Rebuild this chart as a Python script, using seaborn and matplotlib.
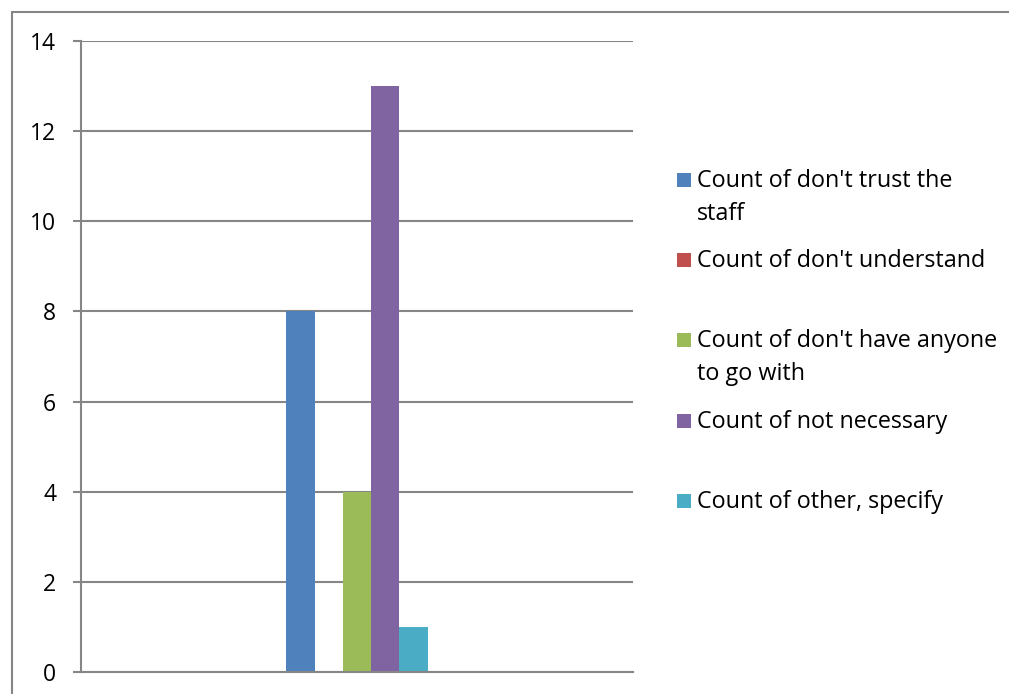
import matplotlib
matplotlib.use("Agg")
import matplotlib.pyplot as plt
from matplotlib.patches import Rectangle
from matplotlib.lines import Line2D
import pandas as pd
import seaborn as sns

# data
series = ["Count of don't trust the staff", "Count of don't understand",
          "Count of don't have anyone to go with", "Count of not necessary",
          "Count of other, specify"]
legend_labels = ["Count of don't trust the\nstaff", "Count of don't understand",
                 "Count of don't have anyone\nto go with", "Count of not necessary",
                 "Count of other, specify"]
counts = [8, 0, 4, 13, 1]
colors = ["#4F81BD", "#C0504D", "#9BBB59", "#8064A2", "#4BACC6"]
yticks = [0, 2, 4, 6, 8, 10, 12, 14]

df = pd.DataFrame({"cat": [""] * len(series), "series": series, "count": counts})

sns.set_style("white")
plt.rcParams["font.family"] = ["Open Sans", "DejaVu Sans"]
plt.rcParams["text.color"] = "black"

W, H = 1009, 694
fig = plt.figure(figsize=(W / 100, H / 100), dpi=100)
ax = fig.add_axes([81 / W, 1 - 672 / H, (633 - 81) / W, (672 - 41) / H])

sns.barplot(data=df, x="cat", y="count", hue="series", hue_order=series,
            palette=colors, width=0.256, saturation=1, legend=False,
            linewidth=0, edgecolor="none", ax=ax)

grid_c = "#868686"
ax.set_xlim(-0.5, 0.5)
ax.set_ylim(0, 14)
ax.set_yticks(yticks)
ax.set_yticklabels([str(t) for t in yticks], fontsize=16.5)
ax.set_xticks([])
ax.set_xlabel("")
ax.set_ylabel("")
ax.yaxis.grid(True, color=grid_c, linewidth=1.5)
ax.set_axisbelow(True)
for s in ["top", "right"]:
    ax.spines[s].set_visible(False)
for s in ["left", "bottom"]:
    ax.spines[s].set_color(grid_c)
    ax.spines[s].set_linewidth(1.5)
ax.tick_params(axis="y", direction="out", length=6, width=1.5, color=grid_c,
               pad=12, left=True, labelcolor="black")

# legend drawn by hand so the marker sits on the first text line
for i, (lab, c) in enumerate(zip(legend_labels, colors)):
    base = 187 + i * 80.2
    fig.add_artist(Rectangle((677 / W, 1 - base / H), 14 / W, 14 / H,
                             transform=fig.transFigure, color=c, lw=0))
    for j, line in enumerate(lab.split("\n")):
        fig.text(697 / W, 1 - (base + j * 33) / H, line, fontsize=16.8,
                 va="baseline", ha="left", color="black")

# outer chart border (top and left visible)
fig.add_artist(Line2D([12 / W, 1], [1 - 11.5 / H, 1 - 11.5 / H],
                      transform=fig.transFigure, color=grid_c, lw=1.5))
fig.add_artist(Line2D([12 / W, 12 / W], [0, 1 - 11.5 / H],
                      transform=fig.transFigure, color=grid_c, lw=1.5))

fig.savefig("out.png", dpi=100)
